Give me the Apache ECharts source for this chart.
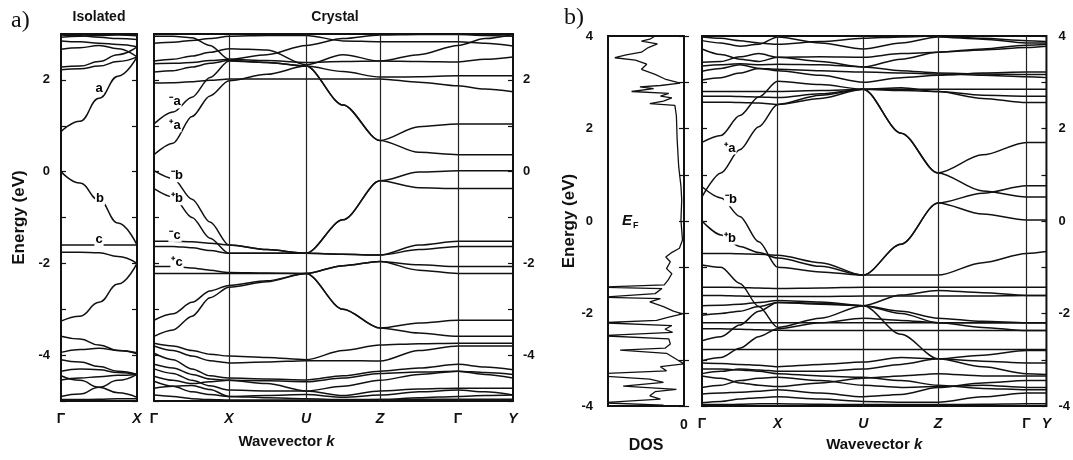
<!DOCTYPE html>
<html><head><meta charset="utf-8">
<script src="https://cdn.jsdelivr.net/npm/echarts@6/dist/echarts.min.js"></script>
<style>html,body{margin:0;padding:0;background:#fff}#c{width:1073px;height:460px}</style>
</head><body><div id="c"></div>
<script>
// ---------- Isolated (panel a, left) ----------
const isoK = [0, 19, 38, 57, 76];
const isoSym = [0, 76];
const isoSymLabels = ['Γ', 'X'];
const isoBands = [
  [2.98, 2.96, 2.93, 2.90, 2.88],
  [2.93, 2.95, 2.97, 2.98, 2.96],
  [2.85, 2.83, 2.80, 2.77, 2.72],
  [2.67, 2.70, 2.75, 2.68, 2.50],
  [2.28, 2.30, 2.40, 2.55, 2.72],
  [2.22, 2.24, 2.30, 2.40, 2.50],
  [0.87, 1.10, 1.60, 2.08, 2.50],
  [0.00, -0.25, -0.62, -1.12, -1.60],
  [-1.60, -1.60, -1.60, -1.60, -1.60],
  [-1.76, -1.76, -1.77, -1.85, -2.00],
  [-3.26, -3.15, -2.85, -2.45, -2.00],
  [-3.59, -3.65, -3.78, -3.90, -3.95],
  [-3.94, -3.88, -3.85, -3.90, -3.97],
  [-4.10, -4.15, -4.25, -4.35, -4.42],
  [-4.35, -4.30, -4.32, -4.38, -4.42],
  [-4.54, -4.50, -4.47, -4.44, -4.42],
  [-4.90, -4.85, -4.70, -4.55, -4.42],
  [-4.45, -4.55, -4.70, -4.82, -4.92],
  [-4.97, -4.97, -4.96, -4.95, -4.95]
];
const isoLabelText = ['a', 'b', 'c'];
const isoLabelK = [38, 39, 38];
const isoLabelE = [1.82, -0.59, -1.48];

// ---------- Crystal (panel a, right) ----------
const crystK = [0, 19, 38, 56, 75, 113, 152, 189, 226, 265, 304, 331, 359];
const crystSym = [0, 75, 152, 226, 304, 359];
const crystSymLabels = ['Γ', 'X', 'U', 'Z', 'Γ', 'Y'];
const crystBands = [
  [2.95, 2.95, 2.92, 2.75, 2.45, 2.55, 2.75, 2.90, 2.98, 2.99, 2.99, 2.97, 2.95],
  [2.80, 2.82, 2.86, 2.90, 2.95, 2.97, 2.97, 2.85, 2.83, 2.83, 2.83, 2.80, 2.74],
  [2.41, 2.45, 2.52, 2.60, 2.68, 2.65, 2.33, 2.55, 2.41, 2.55, 2.75, 2.90, 2.99],
  [2.35, 2.36, 2.38, 2.42, 2.45, 2.42, 2.38, 2.40, 2.41, 2.40, 2.39, 2.45, 2.50],
  [2.17, 2.20, 2.28, 2.36, 2.42, 2.38, 2.30, 2.18, 2.06, 2.07, 2.09, 2.09, 2.09],
  [1.93, 1.94, 1.96, 1.99, 2.02, 2.02, 2.02, 2.02, 2.02, 1.95, 1.87, 1.80, 1.74],
  [1.04, 1.30, 1.62, 2.05, 2.41, 2.38, 2.30, 1.45, 0.68, 0.98, 1.04, 1.04, 1.04],
  [0.37, 0.62, 1.20, 1.65, 1.98, 2.12, 2.30, 1.45, 0.68, 0.42, 0.37, 0.37, 0.37],
  [0.02, -0.15, -0.60, -1.10, -1.60, -1.70, -1.78, -1.05, -0.20, -0.01, 0.02, 0.02, 0.02],
  [-0.37, -0.55, -1.00, -1.45, -1.78, -1.78, -1.78, -1.05, -0.20, -0.35, -0.37, -0.37, -0.37],
  [-1.52, -1.52, -1.53, -1.56, -1.60, -1.70, -1.78, -1.80, -1.82, -1.60, -1.52, -1.52, -1.52],
  [-1.63, -1.63, -1.66, -1.72, -1.78, -1.78, -1.78, -1.80, -1.82, -1.70, -1.63, -1.63, -1.63],
  [-2.07, -2.07, -2.10, -2.15, -2.20, -2.21, -2.22, -2.05, -1.96, -2.03, -2.07, -2.07, -2.07],
  [-2.22, -2.22, -2.22, -2.22, -2.22, -2.22, -2.22, -2.05, -1.96, -2.15, -2.22, -2.22, -2.22],
  [-3.24, -3.10, -2.85, -2.60, -2.48, -2.38, -2.22, -3.00, -3.41, -3.30, -3.24, -3.24, -3.24],
  [-3.59, -3.45, -3.15, -2.75, -2.52, -2.40, -2.22, -3.00, -3.41, -3.52, -3.59, -3.59, -3.59],
  [-3.74, -3.80, -3.90, -3.98, -4.02, -4.05, -4.10, -3.90, -3.78, -3.75, -3.74, -3.74, -3.74],
  [-3.80, -3.90, -4.02, -4.12, -4.17, -4.15, -4.12, -4.12, -4.13, -3.90, -3.80, -3.80, -3.80],
  [-3.96, -4.10, -4.30, -4.45, -4.50, -4.52, -4.54, -4.45, -4.35, -4.28, -4.20, -4.26, -4.32],
  [-4.20, -4.28, -4.42, -4.52, -4.55, -4.56, -4.58, -4.50, -4.40, -4.37, -4.35, -4.42, -4.50],
  [-4.30, -4.40, -4.55, -4.67, -4.76, -4.78, -4.78, -4.68, -4.55, -4.42, -4.35, -4.38, -4.42],
  [-4.46, -4.55, -4.62, -4.58, -4.55, -4.62, -4.78, -4.88, -4.78, -4.74, -4.72, -4.72, -4.72],
  [-4.57, -4.68, -4.80, -4.86, -4.90, -4.88, -4.86, -4.92, -4.87, -4.80, -4.76, -4.80, -4.87],
  [-4.72, -4.68, -4.66, -4.75, -4.90, -4.93, -4.95, -4.97, -4.97, -4.93, -4.90, -4.88, -4.87],
  [-4.87, -4.90, -4.95, -4.97, -4.98, -4.98, -4.98, -4.98, -4.97, -4.96, -4.96, -4.96, -4.96]
];
const crystLabelText = ['⁻a', '⁺a', '⁻b', '⁺b', '⁻c', '⁺c'];
const crystLabelK = [21, 21, 23, 23, 21, 23];
const crystLabelE = [1.52, 1.00, -0.09, -0.59, -1.39, -1.98];

// ---------- DOS (panel b, left) ----------
const dosE = [4.0, 3.93, 3.89, 3.83, 3.75, 3.65, 3.59, 3.53, 3.48, 3.39, 3.28, 3.17, 3.07, 2.98, 2.93, 2.9, 2.86, 2.8, 2.76, 2.7, 2.66, 2.59, 2.54, 2.5, 2.27, 1.76, 1.18, 0.75, 0.46, 0.02, -0.2, -0.41, -0.59, -0.69, -0.78, -0.88, -1.03, -1.14, -1.28, -1.38, -1.43, -1.46, -1.57, -1.65, -1.68, -1.75, -1.85, -1.95, -2.01, -2.08, -2.15, -2.2, -2.26, -2.34, -2.41, -2.48, -2.55, -2.66, -2.75, -2.79, -2.86, -2.99, -3.09, -3.15, -3.24, -3.3, -3.35, -3.42, -3.49, -3.57, -3.64, -3.69, -3.78, -3.85, -3.93, -3.98, -4.0];
const dosV = [0.38, 0.45, 0.56, 0.35, 0.47, 0.56, 0.76, 0.91, 0.64, 0.49, 0.56, 0.38, 0.25, 0.05, 0.31, 0.58, 0.4, 0.69, 0.2, 0.31, 0.16, 0.27, 0.45, 0.12, 0.1, 0.09, 0.07, 0.04, 0.03, 0.04, 0.03, 0.02, 0.06, 0.17, 0.24, 0.18, 0.23, 0.16, 0.21, 0.26, 1.1, 0.29, 0.38, 1.1, 0.31, 0.45, 0.27, 0.14, 0.02, 0.2, 0.36, 1.1, 0.16, 0.25, 0.15, 1.1, 0.2, 0.18, 0.25, 0.84, 0.23, 0.1, 0, 0.31, 0.23, 1.1, 1.1, 0.45, 0.27, 0.8, 0.1, 0.38, 0.45, 0.31, 1.1, 0.27, 0.58];

// ---------- Bands (panel b, right) ----------
const bK = [0, 19, 38, 57, 76, 119, 162, 200, 237, 282, 326, 346];
const bSym = [0, 76, 162, 237, 326, 346];
const bSymLabels = ['Γ', 'X', 'U', 'Z', 'Γ', 'Y'];
const bBands = [
  [3.98, 3.95, 3.90, 3.85, 3.82, 3.88, 3.95, 3.98, 4.00, 3.95, 3.90, 3.88],
  [3.90, 3.85, 3.78, 3.82, 3.98, 3.85, 3.72, 3.85, 3.98, 3.93, 3.85, 3.85],
  [3.72, 3.60, 3.50, 3.45, 3.54, 3.55, 3.54, 3.62, 3.65, 3.70, 3.75, 3.78],
  [3.43, 3.45, 3.55, 3.62, 3.54, 3.45, 3.33, 3.50, 3.65, 3.72, 3.80, 3.82],
  [3.35, 3.38, 3.40, 3.38, 3.39, 3.38, 3.33, 3.25, 3.20, 3.18, 3.17, 3.17],
  [3.24, 3.30, 3.38, 3.30, 3.28, 3.25, 3.22, 3.20, 3.18, 3.15, 3.12, 3.10],
  [3.05, 3.10, 3.20, 3.30, 3.25, 3.15, 3.00, 3.10, 3.15, 3.20, 3.22, 3.22],
  [2.80, 2.80, 2.80, 2.80, 2.80, 2.82, 2.85, 2.85, 2.85, 2.85, 2.85, 2.85],
  [2.70, 2.70, 2.69, 2.68, 2.67, 2.75, 2.85, 2.88, 2.80, 2.72, 2.70, 2.70],
  [2.57, 2.57, 2.56, 2.55, 2.52, 2.65, 2.85, 2.82, 2.80, 2.65, 2.56, 2.56],
  [1.70, 1.85, 2.28, 2.68, 3.02, 2.95, 2.85, 1.90, 1.04, 1.43, 1.70, 1.70],
  [0.52, 1.04, 1.54, 2.04, 2.52, 2.72, 2.85, 1.90, 1.04, 0.65, 0.52, 0.52],
  [0.74, 0.50, 0.10, -0.45, -1.00, -1.10, -1.17, -0.50, 0.39, 0.60, 0.76, 0.76],
  [0.00, -0.30, -0.55, -0.68, -0.80, -0.98, -1.17, -0.50, 0.39, 0.15, 0.02, 0.02],
  [-0.70, -0.70, -0.71, -0.72, -0.74, -0.90, -1.17, -1.17, -1.17, -0.90, -0.70, -0.66],
  [-0.95, -1.00, -1.35, -1.85, -2.30, -2.10, -1.83, -2.45, -2.98, -2.90, -2.80, -2.80],
  [-1.43, -1.43, -1.44, -1.45, -1.46, -1.45, -1.43, -1.43, -1.43, -1.43, -1.43, -1.43],
  [-1.61, -1.61, -1.62, -1.63, -1.63, -1.63, -1.62, -1.62, -1.62, -1.62, -1.61, -1.61],
  [-1.83, -1.82, -1.80, -1.76, -1.72, -1.75, -1.83, -1.60, -1.50, -1.55, -1.61, -1.61],
  [-2.04, -2.00, -1.95, -1.85, -1.76, -1.80, -1.83, -1.95, -2.10, -2.17, -2.20, -2.20],
  [-2.59, -2.50, -2.25, -1.95, -1.76, -1.78, -1.83, -2.00, -2.20, -2.30, -2.37, -2.37],
  [-2.33, -2.33, -2.34, -2.35, -2.36, -2.37, -2.37, -2.37, -2.37, -2.37, -2.37, -2.37],
  [-3.02, -2.95, -2.75, -2.50, -2.33, -2.20, -2.10, -2.15, -2.20, -2.20, -2.20, -2.20],
  [-2.20, -2.20, -2.20, -2.20, -2.20, -2.20, -2.20, -2.20, -2.20, -2.20, -2.20, -2.20],
  [-2.78, -2.78, -2.78, -2.78, -2.78, -2.78, -2.78, -2.78, -2.78, -2.78, -2.78, -2.78],
  [-3.07, -3.08, -3.10, -3.12, -3.15, -3.10, -3.05, -2.95, -2.98, -3.03, -3.07, -3.07],
  [-3.30, -3.25, -3.20, -3.22, -3.25, -3.25, -3.20, -3.10, -2.98, -3.15, -3.30, -3.32],
  [-3.35, -3.40, -3.50, -3.55, -3.58, -3.50, -3.40, -3.35, -3.30, -3.35, -3.35, -3.35],
  [-3.60, -3.55, -3.45, -3.40, -3.38, -3.45, -3.55, -3.60, -3.58, -3.55, -3.60, -3.60],
  [-3.74, -3.72, -3.70, -3.68, -3.65, -3.72, -3.80, -3.75, -3.60, -3.50, -3.45, -3.45],
  [-3.93, -3.90, -3.85, -3.82, -3.80, -3.85, -3.90, -3.92, -3.92, -3.80, -3.72, -3.72],
  [-3.97, -3.97, -3.96, -3.95, -3.95, -3.96, -3.97, -3.97, -3.97, -3.96, -3.95, -3.95],
  [-3.20, -3.20, -3.22, -3.25, -3.30, -3.35, -3.38, -3.45, -3.55, -3.62, -3.65, -3.65]
];
const bLabelText = ['⁺a', '⁻b', '⁺b'];
const bLabelK = [28, 29, 28];
const bLabelE = [1.58, 0.46, -0.37];

// ---------- styles & builders ----------
const FONT = '"Liberation Sans", Arial, sans-serif';
const INK = '#111';
const bandStyle = { color: '#111', width: 1.5 };

function bandSeries(kArr, bands, xi, yi, sm) {
  return bands.map(b => ({
    type: 'line', xAxisIndex: xi, yAxisIndex: yi,
    data: b.map((e, i) => [kArr[i], e]),
    smooth: sm, smoothMonotone: 'x', symbol: 'none', silent: true,
    lineStyle: bandStyle, z: 3, animation: false
  }));
}
function symLines(sym, xi, yi) {
  return {
    type: 'line', xAxisIndex: xi, yAxisIndex: yi, data: [], silent: true, animation: false,
    markLine: {
      symbol: 'none', silent: true, animation: false, label: { show: false },
      lineStyle: { color: '#222', width: 1.2, type: 'solid' },
      data: sym.slice(1, -1).map(k => ({ xAxis: k }))
    }
  };
}
function labelSeries(texts, ks, es, xi, yi) {
  return {
    type: 'scatter', xAxisIndex: xi, yAxisIndex: yi, symbol: 'circle', symbolSize: 0.5, silent: true, animation: false,
    itemStyle: { color: '#fff', opacity: 1 }, z: 6,
    data: texts.map((t, i) => ({ value: [ks[i], es[i]], name: t })),
    label: {
      show: true, position: 'inside', formatter: p => p.name, opacity: 1,
      fontFamily: FONT, fontSize: 13, fontWeight: 'bold', color: '#000',
      textBorderWidth: 0, backgroundColor: '#fff', padding: [0, 1]
    }
  };
}
function xAx(grid, max, sym, names, extra) {
  return Object.assign({
    gridIndex: grid, type: 'value', min: 0, max: max,
    axisLine: { show: false }, axisTick: { show: false }, splitLine: { show: false },
    axisLabel: {
      customValues: sym, margin: 11, hideOverlap: false,
      formatter: v => { const n = names[sym.indexOf(v)]; return n === 'Γ' ? '{g|Γ}' : '{i|' + n + '}'; },
      rich: {
        g: { fontFamily: FONT, fontSize: 14, fontWeight: 'bold', color: INK },
        i: { fontFamily: FONT, fontSize: 14, fontWeight: 'bold', fontStyle: 'italic', color: INK }
      }
    }
  }, extra || {});
}
function yAx(grid, pos, min, max, showLabel, margin, extra) {
  return Object.assign({
    gridIndex: grid, type: 'value', position: pos, min: min, max: max, interval: 1,
    axisLine: { show: false }, splitLine: { show: false },
    axisTick: { show: true, inside: true, length: 5, lineStyle: { color: INK, width: 1.2 } },
    axisLabel: {
      show: showLabel, margin: margin, fontFamily: FONT, fontSize: 13, fontWeight: 'bold', color: INK,
      formatter: v => { const r = Math.round(v); return (r % 2 === 0) ? String(r) : ''; }
    }
  }, extra || {});
}
const nameStyle = { fontFamily: FONT, fontSize: 17, fontWeight: 'bold', color: INK };
const wkRich = { k: { fontFamily: FONT, fontSize: 15, fontWeight: 'bold', fontStyle: 'italic', color: INK } };

const gridBase = { show: true, borderColor: INK, borderWidth: 2, backgroundColor: 'transparent', containLabel: false };

const option = {
  animation: false,
  backgroundColor: '#fff',
  grid: [
    Object.assign({ left: 61, top: 34, width: 76, height: 367 }, gridBase),
    Object.assign({ left: 154, top: 34, width: 359, height: 367 }, gridBase),
    Object.assign({ left: 608, top: 36, width: 76, height: 370 }, gridBase),
    Object.assign({ left: 702, top: 36, width: 346, height: 370 }, gridBase)
  ],
  xAxis: [
    xAx(0, isoK[isoK.length - 1], isoSym, isoSymLabels),
    xAx(1, crystK[crystK.length - 1], crystSym, crystSymLabels,
      { name: 'Wavevector {k|k}', nameLocation: 'middle', nameGap: 33,
        nameTextStyle: { fontFamily: FONT, fontSize: 15, fontWeight: 'bold', color: INK, padding: [0, 94, 0, 0], rich: wkRich } }),
    { gridIndex: 2, type: 'value', min: 0, max: 1, inverse: true,
      axisLine: { show: false }, axisTick: { show: false }, splitLine: { show: false },
      axisLabel: { customValues: [0], margin: 12, formatter: () => '0', fontFamily: FONT, fontSize: 14, fontWeight: 'bold', color: INK },
      name: 'DOS', nameLocation: 'middle', nameGap: 32, nameTextStyle: { fontFamily: FONT, fontSize: 16, fontWeight: 'bold', color: INK } },
    xAx(3, bK[bK.length - 1], bSym, bSymLabels,
      { name: 'Wavevector {k|k}', nameLocation: 'middle', nameGap: 31,
        nameTextStyle: { fontFamily: FONT, fontSize: 15, fontWeight: 'bold', color: INK, rich: wkRich } })
  ],
  yAxis: [
    yAx(0, 'left', -5, 3, true, 11, { name: 'Energy (eV)', nameLocation: 'middle', nameRotate: 90, nameGap: 33, nameTextStyle: nameStyle }),
    yAx(0, 'right', -5, 3, false, 0),
    yAx(1, 'left', -5, 3, false, 0),
    yAx(1, 'right', -5, 3, true, 10),
    yAx(2, 'left', -4, 4, true, 15, { name: 'Energy (eV)', nameLocation: 'middle', nameRotate: 90, nameGap: 28, nameTextStyle: nameStyle }),
    yAx(2, 'right', -4, 4, false, 0),
    yAx(3, 'left', -4, 4, false, 0),
    yAx(3, 'right', -4, 4, true, 12)
  ],
  graphic: [
    { type: 'text', x: 11, y: 9, style: { text: 'a)', font: '24px "Liberation Serif", serif', fill: INK } },
    { type: 'text', x: 564, y: 6, style: { text: 'b)', font: '24px "Liberation Serif", serif', fill: INK } },
    { type: 'text', x: 99, y: 17, style: { text: 'Isolated', font: 'bold 14px ' + FONT, fill: INK, align: 'center', verticalAlign: 'middle' } },
    { type: 'text', x: 335, y: 17, style: { text: 'Crystal', font: 'bold 14px ' + FONT, fill: INK, align: 'center', verticalAlign: 'middle' } },
    { type: 'text', x: 622, y: 221, style: { text: 'E', font: 'italic bold 15px ' + FONT, fill: INK, verticalAlign: 'middle' } },
    { type: 'text', x: 633, y: 226, style: { text: 'F', font: 'bold 9px ' + FONT, fill: INK, verticalAlign: 'middle' } }
  ],
  series: [].concat(
    bandSeries(isoK, isoBands, 0, 0, 0.45),
    [symLines(crystSym, 1, 2)],
    bandSeries(crystK, crystBands, 1, 2, 0.3),
    [{
      type: 'line', xAxisIndex: 2, yAxisIndex: 4, symbol: 'none', silent: true, animation: false,
      data: dosE.map((e, i) => [dosV[i], e]), lineStyle: { color: '#111', width: 1.3 }, clip: true
    }],
    [symLines(bSym, 3, 6)],
    bandSeries(bK, bBands, 3, 6, 0.3),
    [labelSeries(isoLabelText, isoLabelK, isoLabelE, 0, 0),
     labelSeries(crystLabelText, crystLabelK, crystLabelE, 1, 2),
     labelSeries(bLabelText, bLabelK, bLabelE, 3, 6)]
  )
};
const chart = echarts.init(document.getElementById('c'), null, { renderer: 'canvas' });
chart.setOption(option);
</script>
</body></html>
